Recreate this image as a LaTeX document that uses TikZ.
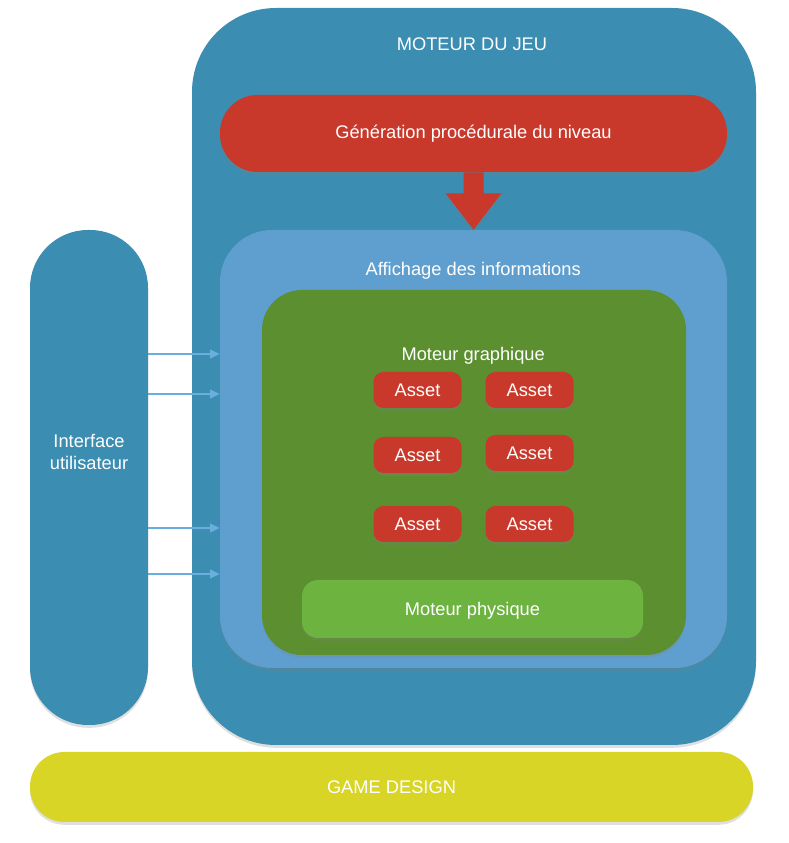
\documentclass[tikz,border=0pt]{standalone}
\usepackage{fontspec}
\setmainfont{Liberation Sans}
\usepackage{xcolor}
\usepackage{tikz}
\usetikzlibrary{arrows.meta,shadows}

\definecolor{jeublue}{HTML}{3B8DB1}
\definecolor{infoblue}{HTML}{5F9FCF}
\definecolor{gfxgreen}{HTML}{5B8F2F}
\definecolor{phygreen}{HTML}{6DB33F}
\definecolor{genred}{HTML}{C8392B}
\definecolor{gdyellow}{HTML}{D9D527}
\definecolor{linkblue}{HTML}{6AAEE0}

\begin{document}
\begin{tikzpicture}[
  font=\fontsize{13}{15}\selectfont,
  box/.style={rounded corners=#1, inner sep=0pt, text=white, align=center,
    drop shadow={opacity=0.25, shadow xshift=0pt, shadow yshift=-0.07cm}},
  title/.style={text=white, inner sep=1pt, align=center},
  asset/.style={box=0.25cm, fill=genred, minimum width=2.2cm, minimum height=0.9cm},
  uiarrow/.style={-{Triangle[length=2.4mm, width=2.2mm]}, draw=linkblue, line width=0.8pt}
]
\useasboundingbox (0,0) rectangle (19.725,21.075);

\node[box=2.1cm, fill=jeublue, minimum width=14.1cm, minimum height=18.425cm] (moteur) at (11.85,11.6625) {};
\node[title] (moteurT) at (11.8,19.975) {MOTEUR DU JEU};

\node[box=0.94cm, fill=genred, minimum width=12.675cm, minimum height=1.925cm] (gen) at (11.8375,17.7375)
  {G\'en\'eration proc\'edurale du niveau};

\node[box=1.3cm, fill=infoblue, minimum width=12.675cm, minimum height=10.95cm] (affich) at (11.8375,9.85) {};
\node[title] (affichT) at (11.83,14.3) {Affichage des informations};

% fleche du generateur vers l'affichage
\fill[genred, drop shadow={opacity=0.25, shadow xshift=0pt, shadow yshift=-0.07cm}]
  ([xshift=-0.25cm]gen.south) -- ([xshift=-0.25cm,yshift=-0.525cm]gen.south)
  -- ([xshift=-0.7cm,yshift=-0.525cm]gen.south) -- (affich.north)
  -- ([xshift=0.7cm,yshift=-0.525cm]gen.south) -- ([xshift=0.25cm,yshift=-0.525cm]gen.south)
  -- ([xshift=0.25cm]gen.south) -- cycle;

\node[box=1cm, fill=gfxgreen, minimum width=10.6cm, minimum height=9.125cm] (graph) at (11.85,9.2625) {};
\node[title] (graphT) at (11.83,12.175) {Moteur graphique};

\node[asset] (a1) at (10.4375,11.325) {Asset};
\node[asset] (a2) at (13.2375,11.325) {Asset};
\node[asset] (a3) at (10.4375,9.7) {Asset};
\node[asset] (a4) at (13.2375,9.75) {Asset};
\node[asset] (a5) at (10.4375,7.975) {Asset};
\node[asset] (a6) at (13.2375,7.975) {Asset};

\node[box=0.4cm, fill=phygreen, minimum width=8.525cm, minimum height=1.45cm] (phys) at (11.8125,5.85) {};
\node[title] (physT) at (11.8125,5.8) {Moteur physique};

\node[box=1.45cm, fill=jeublue, minimum width=2.95cm, minimum height=12.375cm] (iface) at (2.225,9.1375) {};
\node[title] (ifaceT) at (2.225,9.775) {Interface\\utilisateur};

\node[box=0.86cm, fill=gdyellow, minimum width=18.075cm, minimum height=1.75cm] (design) at (9.7875,1.4) {GAME DESIGN};

\foreach \yy in {12.225,11.225,7.875,6.725}
  \draw[uiarrow] (iface.east |- 0,\yy) -- (affich.west |- 0,\yy);

\end{tikzpicture}
\end{document}
